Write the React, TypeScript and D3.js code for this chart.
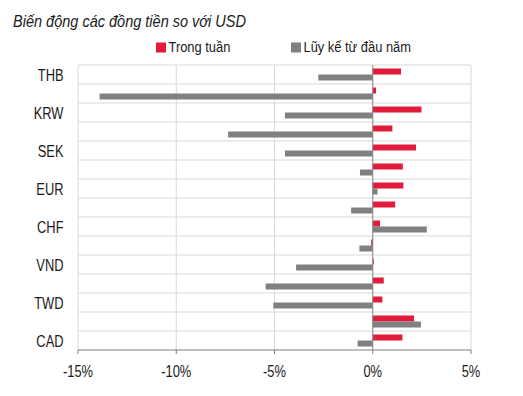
import React from 'react';
import * as d3 from 'd3';

const categories: string[] = ['THB', 'JPY', 'KRW', 'GBP', 'SEK', 'SGD', 'EUR', 'AUD', 'CHF', 'CNY', 'VND', 'MYR', 'TWD', 'INR', 'CAD'];
const shownLabels: string[] = ['THB', 'KRW', 'SEK', 'EUR', 'CHF', 'VND', 'TWD', 'CAD'];
const weekly: number[] = [1.44, 0.17, 2.48, 1.0, 2.2, 1.53, 1.56, 1.14, 0.37, -0.08, 0.05, 0.56, 0.49, 2.1, 1.51];
const ytd: number[] = [-2.77, -13.9, -4.47, -7.36, -4.47, -0.65, 0.24, -1.1, 2.75, -0.68, -3.9, -5.45, -5.06, 2.45, -0.77];
const seriesNames: string[] = ['Trong tuần', 'Lũy kế từ đầu năm'];
const xTicks: number[] = [-15, -10, -5, 0, 5];

const width = 523;
const height = 396;
const margin = { top: 65, right: 52, bottom: 46, left: 78 };
const font = '"Liberation Sans", Arial, sans-serif';
const colors = ['#e31b3b', '#808080'];

// narrow-looking text: the original uses a condensed face, so squeeze horizontally
function NText(props: { x: number; y: number; sx: number; size: number; anchor?: string; italic?: boolean; children: string }) {
    return (
        <text
            transform={`translate(${props.x},${props.y}) scale(${props.sx},1)`}
            textAnchor={props.anchor || 'start'}
            fontSize={props.size}
            fontStyle={props.italic ? 'italic' : 'normal'}
            fill="#1a1a1a"
        >
            {props.children}
        </text>
    );
}

function App() {
    const x = d3.scaleLinear()
        .domain([-15, 5])
        .range([margin.left, width - margin.right]);

    const y = d3.scaleBand()
        .domain(categories)
        .range([margin.top, height - margin.bottom]);

    const inner = d3.scaleBand()
        .domain(seriesNames)
        .range([3.5, y.bandwidth() - 3.5]);

    const series = [weekly, ytd];
    const gridY = categories.map(c => y(c) as number);

    return (
        <svg width={width} height={height} style={{ position: 'absolute', left: 0, top: 0 }} fontFamily={font}>
            <rect width={width} height={height} fill="#fff" />
            <NText x={13} y={27} sx={0.88} size={16.5} italic>Biến động các đồng tiền so với USD</NText>

            {seriesNames.map((name, i) => (
                <g key={name} transform={`translate(${i === 0 ? 156 : 291},42.5)`}>
                    <rect width={10} height={10} fill={colors[i]} />
                    <NText x={12.5} y={9.5} sx={0.86} size={15}>{name}</NText>
                </g>
            ))}

            {/* grid */}
            {xTicks.filter(t => t !== 0).map(t => (
                <line key={t} x1={x(t)} x2={x(t)} y1={margin.top} y2={height - margin.bottom} stroke="#d9d9d9" strokeWidth={1} />
            ))}
            {gridY.map((gy, i) => (
                <line key={i} x1={x(-15)} x2={x(5)} y1={gy} y2={gy} stroke="#d9d9d9" strokeWidth={1} />
            ))}

            {/* bars */}
            {series.map((vals, si) => vals.map((v, i) => (
                <rect
                    key={`${si}-${i}`}
                    x={x(Math.min(0, v))}
                    width={Math.abs(x(v) - x(0))}
                    y={(y(categories[i]) as number) + (inner(seriesNames[si]) as number)}
                    height={inner.bandwidth()}
                    fill={colors[si]}
                />
            )))}

            {/* zero line and x axis */}
            <line x1={x(0)} x2={x(0)} y1={margin.top} y2={height - margin.bottom} stroke="#7f7f7f" strokeWidth={1} />
            <line x1={x(-15)} x2={x(5)} y1={height - margin.bottom} y2={height - margin.bottom} stroke="#7f7f7f" strokeWidth={1} />
            {xTicks.map(t => (
                <g key={t} transform={`translate(${x(t)},${height - margin.bottom})`}>
                    <line y2={4} stroke="#7f7f7f" />
                    <NText x={0} y={27} sx={0.78} size={16.5} anchor="middle">{`${t}%`}</NText>
                </g>
            ))}

            {/* y labels */}
            {categories.filter(c => shownLabels.includes(c)).map(c => (
                <NText key={c} x={63.5} y={(y(c) as number) + y.bandwidth() / 2 + 6} sx={0.78} size={16.5} anchor="end">{c}</NText>
            ))}
        </svg>
    );
}

export default App;
